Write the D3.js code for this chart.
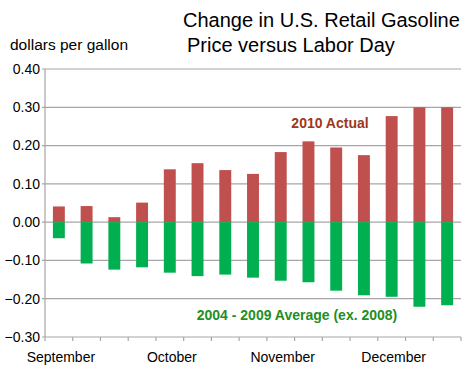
<!DOCTYPE html>
<html>
<head>
<meta charset="utf-8">
<script src="https://cdn.jsdelivr.net/npm/d3@7"></script>
<style>
  body { margin: 0; background: #fff; }
  svg { display: block; font-family: "Liberation Sans", Arial, sans-serif; }
</style>
</head>
<body>
<div id="wrapper"></div>
<script>
// weeks after Labor Day
const weeks = d3.range(15)
const actual2010 = [0.041, 0.042, 0.013, 0.051, 0.138, 0.154, 0.136, 0.126, 0.183, 0.211, 0.195, 0.175, 0.277, 0.300, 0.300]
const avg0409 = [-0.042, -0.108, -0.124, -0.118, -0.132, -0.141, -0.137, -0.145, -0.153, -0.157, -0.179, -0.191, -0.195, -0.221, -0.217]
const yTicks = [0.4, 0.3, 0.2, 0.1, 0, -0.1, -0.2, -0.3]
const months = [["September", 0], ["October", 4], ["November", 8], ["December", 12]]

const dimensions = {
  width: 470,
  height: 374,
  margin: { top: 69, right: 9, bottom: 37, left: 45 },
}
dimensions.boundedWidth = dimensions.width - dimensions.margin.left - dimensions.margin.right
dimensions.boundedHeight = dimensions.height - dimensions.margin.top - dimensions.margin.bottom

const wrapper = d3.select("#wrapper")
  .append("svg")
  .attr("width", dimensions.width)
  .attr("height", dimensions.height)

const bounds = wrapper.append("g")
  .attr("transform", `translate(${dimensions.margin.left},${dimensions.margin.top})`)

const xScale = d3.scaleBand()
  .domain(weeks)
  .range([0, dimensions.boundedWidth])
  .paddingInner(0.57)
  .paddingOuter(0.285)

const yScale = d3.scaleLinear()
  .domain([-0.3, 0.4])
  .range([dimensions.boundedHeight, 0])

// gridlines
bounds.append("g")
  .selectAll("line")
  .data(yTicks)
  .join("line")
    .attr("x1", -3)
    .attr("x2", dimensions.boundedWidth)
    .attr("y1", d => yScale(d))
    .attr("y2", d => yScale(d))
    .attr("stroke", "#a6a6a6")
    .attr("stroke-width", 1.2)

// y axis line
bounds.append("line")
  .attr("x1", 0).attr("x2", 0)
  .attr("y1", 0).attr("y2", dimensions.boundedHeight)
  .attr("stroke", "#a6a6a6")
  .attr("stroke-width", 1.2)

// bottom ticks at category edges
const step = xScale.step()
bounds.append("g")
  .selectAll("line")
  .data(d3.range(weeks.length + 1))
  .join("line")
    .attr("x1", d => d * step)
    .attr("x2", d => d * step)
    .attr("y1", dimensions.boundedHeight)
    .attr("y2", dimensions.boundedHeight + 4)
    .attr("stroke", "#a6a6a6")
    .attr("stroke-width", 1.2)

// bars
bounds.append("g")
  .selectAll("rect")
  .data(weeks)
  .join("rect")
    .attr("x", d => xScale(d))
    .attr("width", xScale.bandwidth())
    .attr("y", d => yScale(actual2010[d]))
    .attr("height", d => yScale(0) - yScale(actual2010[d]))
    .attr("fill", "#c0504d")

bounds.append("g")
  .selectAll("rect")
  .data(weeks)
  .join("rect")
    .attr("x", d => xScale(d))
    .attr("width", xScale.bandwidth())
    .attr("y", yScale(0))
    .attr("height", d => yScale(avg0409[d]) - yScale(0))
    .attr("fill", "#00b050")

// y tick labels
bounds.append("g")
  .selectAll("text")
  .data(yTicks)
  .join("text")
    .attr("x", -5)
    .attr("y", d => yScale(d))
    .attr("dy", "0.35em")
    .attr("text-anchor", "end")
    .attr("font-size", 14)
    .attr("fill", "#000")
    .text(d => d3.format(".2f")(d))

// month labels
bounds.append("g")
  .selectAll("text")
  .data(months)
  .join("text")
    .attr("x", d => xScale(d[1]) + xScale.bandwidth() / 2 + 2)
    .attr("y", dimensions.boundedHeight + 25)
    .attr("text-anchor", "middle")
    .attr("font-size", 14)
    .attr("fill", "#000")
    .text(d => d[0])

// series labels
bounds.append("text")
  .attr("x", 285)
  .attr("y", 59)
  .attr("text-anchor", "middle")
  .attr("font-size", 14)
  .attr("font-weight", "bold")
  .attr("fill", "#a0361c")
  .text("2010 Actual")

bounds.append("text")
  .attr("x", 252)
  .attr("y", 251)
  .attr("text-anchor", "middle")
  .attr("font-size", 14)
  .attr("font-weight", "bold")
  .attr("fill", "#1f8f1f")
  .text("2004 - 2009 Average (ex. 2008)")

// titles
wrapper.append("text")
  .attr("x", 10)
  .attr("y", 50)
  .attr("font-size", 15.5)
  .attr("fill", "#000")
  .text("dollars per gallon")

wrapper.append("text")
  .attr("x", 183)
  .attr("y", 27)
  .attr("font-size", 20)
  .attr("fill", "#000")
  .text("Change in U.S. Retail Gasoline")

wrapper.append("text")
  .attr("x", 187)
  .attr("y", 52)
  .attr("font-size", 20)
  .attr("fill", "#000")
  .text("Price versus Labor Day")
</script>
</body>
</html>
